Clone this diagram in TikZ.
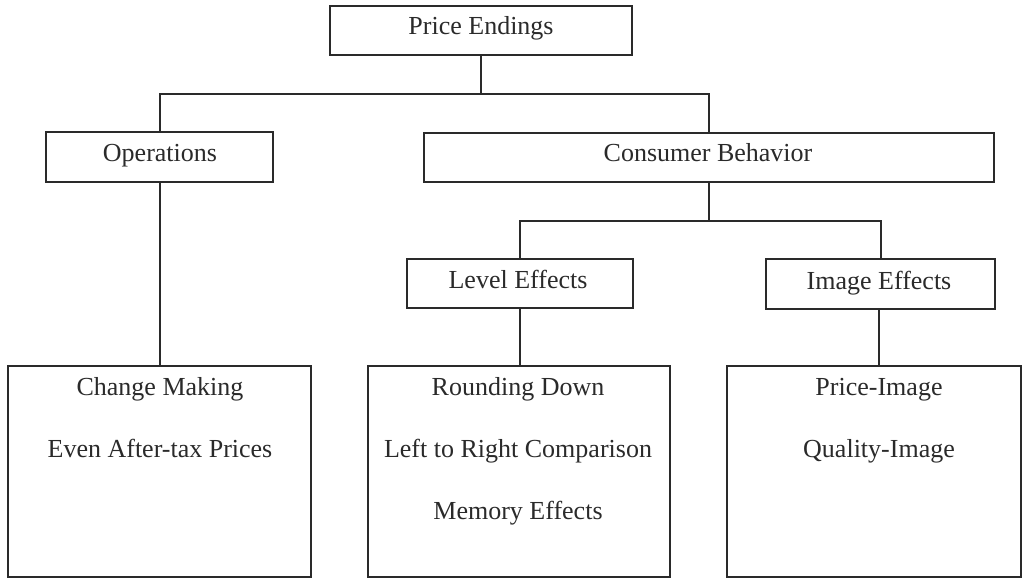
\documentclass[tikz,border=0pt]{standalone}
\usepackage{fontspec}
\setmainfont{Liberation Serif}
\definecolor{ink}{HTML}{2A2A2A}
\begin{document}
\begin{tikzpicture}[x=1pt,y=-1pt,
  box/.style={draw=ink,line width=2pt,rectangle,inner sep=0pt,anchor=center},
  lbl/.style={text=ink,font=\fontsize{26}{30}\selectfont,inner sep=0pt,anchor=base},
  link/.style={draw=ink,line width=2pt}]
\useasboundingbox (0,0) rectangle (1024,580);
% boxes
\node[box,minimum width=302pt,minimum height=49pt] (pe) at (481,30.5) {};
\node[lbl] (pet) at (481,35) {Price Endings};
\node[box,minimum width=227pt,minimum height=50pt] (ops) at (159.5,157) {};
\node[lbl] (opst) at (160,161) {Operations};
\node[box,minimum width=570pt,minimum height=49pt] (cb) at (709,157.5) {};
\node[lbl] (cbt) at (708,162) {Consumer Behavior};
\node[box,minimum width=226pt,minimum height=49pt] (le) at (520,283.5) {};
\node[lbl] (let) at (518,288) {Level Effects};
\node[box,minimum width=229pt,minimum height=50pt] (ie) at (880.5,284) {};
\node[lbl] (iet) at (879,289) {Image Effects};
\node[box,minimum width=303pt,minimum height=211pt] (cm) at (159.5,471.5) {};
\node[box,minimum width=302pt,minimum height=211pt] (rd) at (519,471.5) {};
\node[box,minimum width=294pt,minimum height=211pt] (pi) at (874,471.5) {};
% texts in bottom boxes
\node[lbl] (cm1) at (160,395) {Change Making};
\node[lbl] (cm2) at (160,457) {Even After-tax Prices};
\node[lbl] (rd1) at (518,395) {Rounding Down};
\node[lbl] (rd2) at (518,457) {Left to Right Comparison};
\node[lbl] (rd3) at (518,519) {Memory Effects};
\node[lbl] (pi1) at (879,395) {Price-Image};
\node[lbl] (pi2) at (879,457) {Quality-Image};
% junctions
\coordinate (j1) at (481,94);
\coordinate (j2) at (709,221);
% connectors
\draw[link] (pe.south) -- (j1);
\draw[link] (ops.north) |- (j1) -| (cb.north);
\draw[link] (cb.south) -- (j2);
\draw[link] (le.north) |- (j2) -| (ie.north);
\draw[link] (ops.south) -- (ops.south |- cm.north);
\draw[link] (le.south) -- (le.south |- rd.north);
\draw[link] ([xshift=-1.5pt]ie.south) -- ([xshift=-1.5pt]ie.south |- pi.north);
\end{tikzpicture}
\end{document}
